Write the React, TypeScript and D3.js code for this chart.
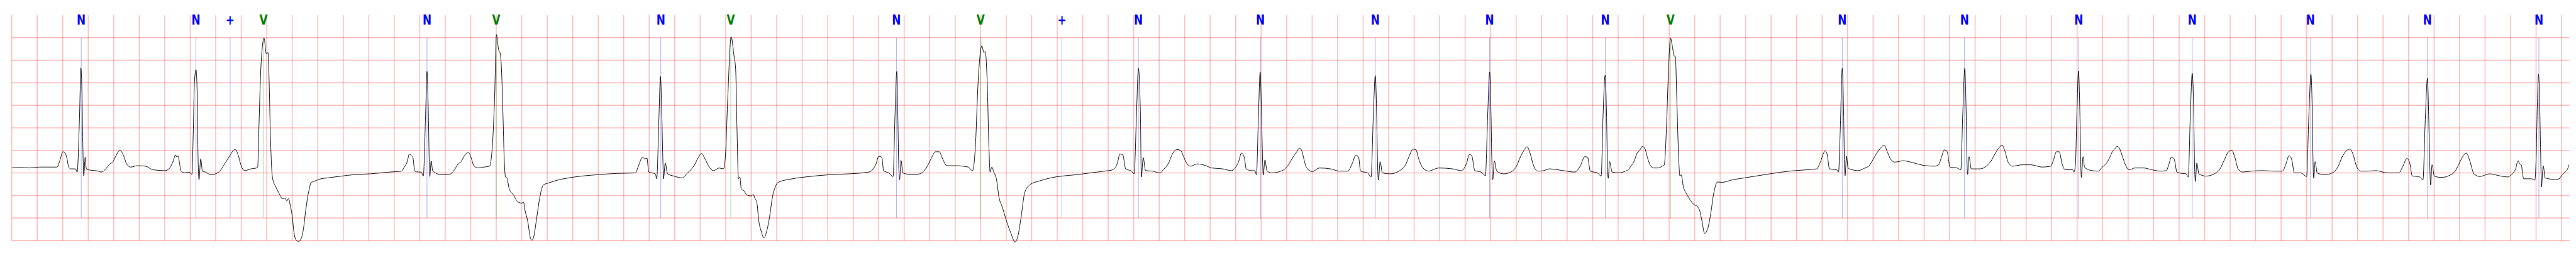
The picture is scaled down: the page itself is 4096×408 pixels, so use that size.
import React from "react";
import * as d3 from "d3";

// beat annotations: sample time (s) and symbol
const annTimes = [0.545, 1.445, 1.713, 1.975, 3.257, 3.8, 5.091, 5.64, 6.939, 7.6, 8.237, 8.837, 9.794, 10.695, 11.592, 12.5, 13.011, 14.358, 15.317, 16.213, 17.103, 18.031, 18.948, 19.822];
const annSymbols = ["N", "N", "+", "V", "N", "V", "N", "V", "N", "V", "+", "N", "N", "N", "N", "N", "V", "N", "N", "N", "N", "N", "N", "N"];

// grid ticks (0.2 s, 0.5 mV)
const timeTicks = d3.range(0, 101).map(i => +(i * 0.2).toFixed(1));
const mvTicks = [-1.5, -1, -0.5, 0, 0.5, 1, 1.5, 2, 2.5, 3];

// ECG trace: [time s, mV]
const ecg: [number, number][] = [
  [0.000,0.11],[0.062,0.12],[0.139,0.11],[0.216,0.13],[0.293,0.13],[0.354,0.13],[0.377,0.27],[0.401,0.47],[0.416,0.45],[0.431,0.35],[0.447,0.13],[0.462,0.09],[0.501,0.09],[0.513,0.02],[0.532,1.29],[0.542,2.33],[0.552,1.65],[0.558,0.56],[0.565,-0.07],[0.576,0.35],[0.585,0.09],[0.601,0.07],[0.678,0.04],[0.701,0.02],[0.724,0.05],[0.770,0.20],[0.794,0.25],[0.817,0.38],[0.847,0.50],[0.878,0.38],[0.901,0.20],[0.932,0.13],[0.986,0.16],[1.048,0.15],[1.109,0.07],[1.202,0.05],[1.233,0.09],[1.263,0.24],[1.285,0.40],[1.296,0.35],[1.305,0.38],[1.317,0.20],[1.326,0.05],[1.357,0.00],[1.393,0.02],[1.413,-0.03],[1.424,0.93],[1.433,2.02],[1.445,2.29],[1.454,1.84],[1.460,0.56],[1.469,-0.15],[1.482,0.31],[1.496,0.04],[1.518,0.02],[1.563,-0.04],[1.625,0.02],[1.670,0.20],[1.706,0.36],[1.751,0.52],[1.778,0.38],[1.795,0.20],[1.827,0.05],[1.876,0.09],[1.921,0.11],
  [1.929,0.13],[1.938,0.93],[1.952,2.20],[1.965,2.78],[1.979,2.99],[1.997,2.64],[2.010,2.67],[2.019,2.02],[2.028,0.93],[2.040,0.05],[2.046,-0.12],[2.073,-0.32],[2.100,-0.47],[2.122,-0.57],[2.144,-0.56],[2.158,-0.62],[2.171,-0.57],[2.185,-0.73],[2.197,-0.90],[2.216,-1.36],[2.234,-1.50],[2.250,-1.52],[2.269,-1.46],[2.287,-1.26],[2.305,-0.85],[2.323,-0.50],[2.337,-0.32],[2.345,-0.22],[2.378,-0.18],[2.412,-0.14],[2.478,-0.11],[2.589,-0.07],[2.678,-0.04],[2.812,-0.02],[2.968,0.02],[3.057,0.04],
  [3.079,0.13],[3.101,0.24],[3.119,0.42],[3.135,0.38],[3.146,0.35],[3.161,0.04],[3.190,0.02],[3.212,0.02],[3.228,-0.07],[3.246,1.29],[3.257,2.25],[3.268,1.29],[3.275,0.20],[3.279,-0.08],[3.290,0.27],[3.301,0.05],[3.324,0.00],[3.368,-0.04],[3.424,-0.04],[3.468,0.05],[3.502,0.20],[3.524,0.25],[3.546,0.36],[3.580,0.46],[3.602,0.35],[3.624,0.16],[3.658,0.11],[3.702,0.13],[3.747,0.15],[3.769,0.56],[3.787,1.65],[3.802,3.07],[3.818,2.74],[3.831,2.65],[3.840,2.38],[3.853,1.29],[3.862,0.38],[3.873,-0.09],[3.884,-0.11],[3.902,-0.35],[3.936,-0.49],[3.969,-0.64],[4.002,-0.67],[4.014,-0.65],[4.025,-0.82],[4.047,-1.07],[4.069,-1.45],[4.080,-1.49],[4.091,-1.45],[4.114,-1.07],[4.136,-0.64],[4.169,-0.27],[4.214,-0.22],[4.281,-0.16],[4.414,-0.09],[4.592,-0.04],[4.748,-0.01],[4.892,0.00],[4.915,0.15],[4.948,0.35],[4.966,0.31],[4.982,0.33],[4.997,0.02],[5.048,-0.02],[5.059,-0.13],[5.077,1.29],[5.088,2.14],[5.099,1.29],[5.108,0.20],[5.112,-0.13],[5.126,0.22],[5.144,-0.02],[5.193,-0.07],[5.260,-0.11],[5.293,-0.02],[5.326,0.07],[5.360,0.20],[5.382,0.33],[5.411,0.43],[5.438,0.31],[5.471,0.13],[5.504,0.05],[5.549,0.11],[5.582,0.09],[5.598,0.38],[5.616,1.65],[5.643,3.02],[5.665,2.60],[5.678,2.31],
  [5.689,0.93],[5.700,-0.13],[5.711,-0.09],[5.722,-0.35],[5.744,-0.40],[5.767,-0.49],[5.800,-0.51],[5.816,-0.48],[5.829,-0.56],[5.845,-0.67],[5.860,-1.07],[5.878,-1.29],[5.900,-1.44],[5.922,-1.29],[5.945,-0.96],[5.967,-0.53],[5.989,-0.31],[6.011,-0.21],[6.123,-0.13],[6.256,-0.08],[6.412,-0.04],[6.568,-0.02],[6.723,0.02],[6.757,0.09],[6.779,0.20],[6.801,0.37],[6.824,0.35],[6.839,0.05],[6.879,0.00],[6.913,-0.08],[6.928,1.29],[6.942,2.25],[6.950,1.29],[6.957,0.20],[6.964,-0.15],[6.975,0.28],[6.990,0.00],[7.057,-0.04],[7.124,-0.02],[7.157,0.05],[7.191,0.20],[7.213,0.33],[7.246,0.47],[7.275,0.47],[7.302,0.31],[7.335,0.16],[7.413,0.16],[7.458,0.15],[7.502,0.13],[7.536,0.05],[7.558,0.56],[7.580,2.02],[7.609,2.82],[7.625,2.67],[7.636,2.69],[7.651,2.02],[7.665,0.56],[7.674,0.02],[7.687,0.13],[7.703,0.02],[7.725,-0.16],[7.743,-0.53],[7.769,-0.75],[7.803,-1.07],[7.836,-1.33],[7.870,-1.53],[7.892,-1.40],[7.914,-1.04],[7.947,-0.42],[7.992,-0.25],[8.059,-0.18],[8.148,-0.11],[8.237,-0.07],[8.348,-0.04],[8.459,0.00],[8.570,0.04],[8.637,0.07],[8.670,0.20],[8.693,0.42],[8.715,0.40],[8.737,0.09],[8.782,0.04],[8.804,-0.02],[8.822,1.29],[8.837,2.32],[8.853,1.29],[8.860,-0.09],[8.875,0.34],[8.893,0.05],[8.949,0.04],[9.004,0.00],[9.038,0.09],[9.071,0.20],[9.104,0.42],[9.140,0.52],[9.167,0.50],[9.189,0.38],[9.211,0.24],[9.245,0.15],
  [9.300,0.20],[9.367,0.16],[9.411,0.11],[9.500,0.09],[9.567,0.05],[9.601,0.13],[9.623,0.25],[9.645,0.44],[9.667,0.35],[9.683,0.09],[9.723,0.05],[9.750,0.05],[9.763,-0.04],[9.779,1.29],[9.792,2.24],[9.803,1.29],[9.812,0.20],[9.816,-0.05],[9.830,0.29],[9.845,0.05],[9.879,0.00],[9.945,0.03],[10.001,0.13],[10.046,0.33],[10.079,0.47],[10.101,0.55],[10.119,0.49],[10.135,0.31],[10.157,0.11],[10.201,0.03],[10.257,0.11],[10.346,0.09],[10.413,0.04],[10.479,0.04],[10.513,0.20],[10.542,0.39],[10.564,0.35],[10.580,0.04],[10.635,0.00],[10.662,-0.09],[10.680,1.29],[10.695,2.16],[10.706,1.29],[10.713,0.20],[10.720,-0.16],[10.733,0.25],[10.751,0.00],[10.813,-0.02],[10.880,0.04],[10.936,0.20],[10.965,0.40],[10.991,0.53],[11.014,0.51],[11.036,0.31],[11.069,0.11],[11.114,0.04],[11.192,0.11],[11.303,0.09],[11.370,0.05],[11.414,0.24],[11.432,0.41],[11.452,0.38],[11.476,0.05],[11.525,0.02],[11.559,-0.06],[11.577,1.29],[11.592,2.24],[11.603,1.29],[11.610,0.20],[11.617,-0.15],[11.628,0.27],[11.648,0.04],[11.703,-0.02],[11.770,0.04],[11.803,0.15],[11.837,0.38],[11.859,0.49],[11.886,0.58],[11.908,0.45],[11.937,0.16],[11.970,0.04],[12.015,0.05],[12.059,0.09],[12.171,0.05],[12.260,0.02],[12.304,0.16],[12.338,0.36],[12.360,0.35],[12.382,0.04],[12.438,0.00],[12.467,-0.07],[12.482,1.29],[12.498,2.17],[12.509,1.29],[12.516,0.20],[12.522,-0.12],[12.533,0.25],[12.553,0.02],[12.605,0.00],[12.656,0.04],
  [12.678,0.07],[12.700,0.15],[12.722,0.24],[12.749,0.44],[12.771,0.51],[12.789,0.59],[12.811,0.53],[12.833,0.31],[12.856,0.15],[12.878,0.11],[12.911,0.11],[12.945,0.15],[12.962,0.18],[12.978,0.93],[12.994,2.20],[13.011,2.99],[13.027,2.78],[13.038,2.60],[13.049,2.58],[13.060,1.65],[13.074,0.38],[13.085,-0.07],[13.094,-0.04],[13.112,-0.31],[13.134,-0.45],[13.156,-0.56],[13.189,-0.69],[13.223,-0.75],[13.241,-0.85],[13.256,-1.04],[13.278,-1.34],[13.301,-1.25],[13.323,-0.96],[13.350,-0.45],[13.379,-0.20],[13.412,-0.21],[13.501,-0.15],[13.590,-0.11],[13.701,-0.06],[13.812,-0.01],[13.946,0.04],[14.079,0.07],[14.157,0.09],[14.186,0.24],[14.213,0.45],[14.224,0.49],[14.240,0.40],[14.258,0.09],[14.313,0.07],[14.329,0.02],[14.342,0.93],[14.358,2.32],[14.369,1.29],[14.375,0.20],[14.380,-0.07],[14.391,0.37],[14.404,0.11],[14.436,0.07],[14.480,0.05],[14.536,0.11],[14.569,0.16],[14.602,0.31],[14.636,0.47],[14.669,0.58],[14.685,0.62],[14.714,0.45],[14.736,0.31],[14.769,0.24],[14.836,0.27],[14.881,0.25],[14.947,0.20],[15.014,0.16],[15.081,0.15],[15.114,0.18],[15.136,0.35],[15.159,0.51],[15.181,0.47],[15.203,0.13],[15.259,0.11],[15.288,0.07],[15.303,1.29],[15.319,2.32],[15.330,1.29],[15.337,0.20],[15.341,-0.03],[15.352,0.36],[15.370,0.09],[15.437,0.09],[15.492,0.16],[15.526,0.27],[15.559,0.44],[15.588,0.56],[15.610,0.62],[15.633,0.49],[15.659,0.24],[15.693,0.15],[15.771,0.18],[15.837,0.18],[15.926,0.13],[15.993,0.15],[16.015,0.29],[16.038,0.47],[16.060,0.47],[16.082,0.20],[16.109,0.07],[16.144,0.07],
  [16.164,0.07],[16.176,0.02],[16.187,0.20],[16.198,1.29],[16.211,2.26],[16.222,1.29],[16.229,0.20],[16.233,-0.10],[16.247,0.36],[16.258,0.13],[16.276,0.09],[16.320,0.05],[16.365,0.04],[16.398,0.13],[16.431,0.22],[16.454,0.33],[16.476,0.47],[16.494,0.53],[16.516,0.59],[16.538,0.51],[16.554,0.38],[16.576,0.20],[16.609,0.07],[16.654,0.11],[16.721,0.11],[16.787,0.07],[16.854,0.04],[16.899,0.05],[16.921,0.20],[16.939,0.35],[16.961,0.31],[16.983,0.02],[17.021,-0.01],[17.054,-0.02],[17.072,-0.09],[17.088,1.29],[17.103,2.21],[17.115,1.29],[17.121,0.20],[17.128,-0.19],[17.139,0.22],[17.155,-0.02],[17.210,-0.07],[17.277,-0.02],[17.321,0.09],[17.355,0.29],[17.388,0.47],[17.415,0.50],[17.437,0.35],[17.466,0.07],[17.500,0.02],[17.566,0.04],[17.655,0.05],[17.744,0.04],[17.811,0.04],[17.838,0.20],[17.862,0.38],[17.882,0.31],[17.905,0.00],[17.956,0.00],[18.000,-0.08],[18.018,1.29],[18.034,2.19],[18.045,1.29],[18.051,0.20],[18.056,-0.12],[18.067,0.25],[18.083,0.00],[18.145,-0.04],[18.200,0.00],[18.245,0.13],[18.278,0.35],[18.312,0.49],[18.341,0.53],[18.363,0.42],[18.390,0.16],[18.423,0.04],[18.479,0.04],[18.545,0.05],[18.634,0.00],[18.723,0.00],[18.757,0.16],[18.786,0.32],[18.806,0.25],[18.830,-0.07],[18.879,-0.08],[18.913,-0.15],[18.930,1.11],[18.948,2.10],[18.959,1.11],[18.966,0.20],[18.973,-0.27],[18.984,0.18],[19.002,-0.07],[19.057,-0.10],[19.124,-0.05],[19.168,0.05],[19.202,0.24],[19.224,0.36],[19.253,0.44],[19.280,0.27],[19.313,-0.02],[19.358,-0.08],[19.435,-0.02],[19.524,-0.07],[19.580,-0.09],[19.602,-0.05],[19.631,0.04],
  [19.640,0.09],[19.649,0.20],[19.660,0.27],[19.671,0.20],[19.684,0.18],[19.693,0.02],[19.702,-0.13],[19.729,-0.13],[19.765,-0.13],[19.790,-0.16],[19.801,0.38],[19.811,1.65],[19.819,2.19],[19.826,1.84],[19.835,0.56],[19.843,-0.31],[19.850,-0.02],[19.856,0.16],[19.863,0.05],[19.870,-0.11],[19.899,-0.13],[19.944,-0.15],[19.980,-0.13],[20.006,-0.04],[20.033,0.04],[20.047,0.09],[20.058,0.18],
];

const symbolColor: Record<string, string> = { N: "#0000ff", "+": "#0000ff", V: "#008000" };

const W = 7522, H = 750;

export default function App() {
  const x = d3.scaleLinear().domain([0, 20.063]).range([34.3, 7510.7]);
  const y = d3.scaleLinear().domain([-1.5, 3.5]).range([702, 44.2]);

  const line = d3.line<[number, number]>()
    .x(d => x(d[0]))
    .y(d => y(d[1]))
    .curve(d3.curveMonotoneX);

  return (
    <svg
      width={4092}
      height={408}
      viewBox={`0 0 ${W} ${H}`}
      style={{ position: "fixed", left: 0, top: 0, background: "#fff" }}
    >
      <rect width={W} height={H} fill="#fff" />
      {/* grid */}
      <g stroke="#ff0000" strokeOpacity={0.25} strokeWidth={3}>
        {timeTicks.map(t => (
          <line key={"v" + t} x1={x(t)} x2={x(t)} y1={y(3.5)} y2={y(-1.5)} />
        ))}
        {mvTicks.map(v => (
          <line key={"h" + v} x1={x(0)} x2={x(20.063)} y1={y(v)} y2={y(v)} />
        ))}
      </g>
      {/* annotation markers */}
      <g strokeWidth={1.2} strokeOpacity={0.5}>
        {annTimes.map((t, i) => (
          <line key={i} x1={x(t)} x2={x(t)} y1={y(3)} y2={y(-1)} stroke={symbolColor[annSymbols[i]]} />
        ))}
      </g>
      <path d={line(ecg) || ""} fill="none" stroke="#000" strokeWidth={1.7} strokeLinejoin="round" />
      <g fontFamily="'DejaVu Sans', sans-serif" fontWeight="bold" fontSize={31} textAnchor="middle">
        {annTimes.map((t, i) => (
          <text key={i} transform={`translate(${x(t)},72) scale(1,1.27)`} fill={symbolColor[annSymbols[i]]}>
            {annSymbols[i]}
          </text>
        ))}
      </g>
    </svg>
  );
}
